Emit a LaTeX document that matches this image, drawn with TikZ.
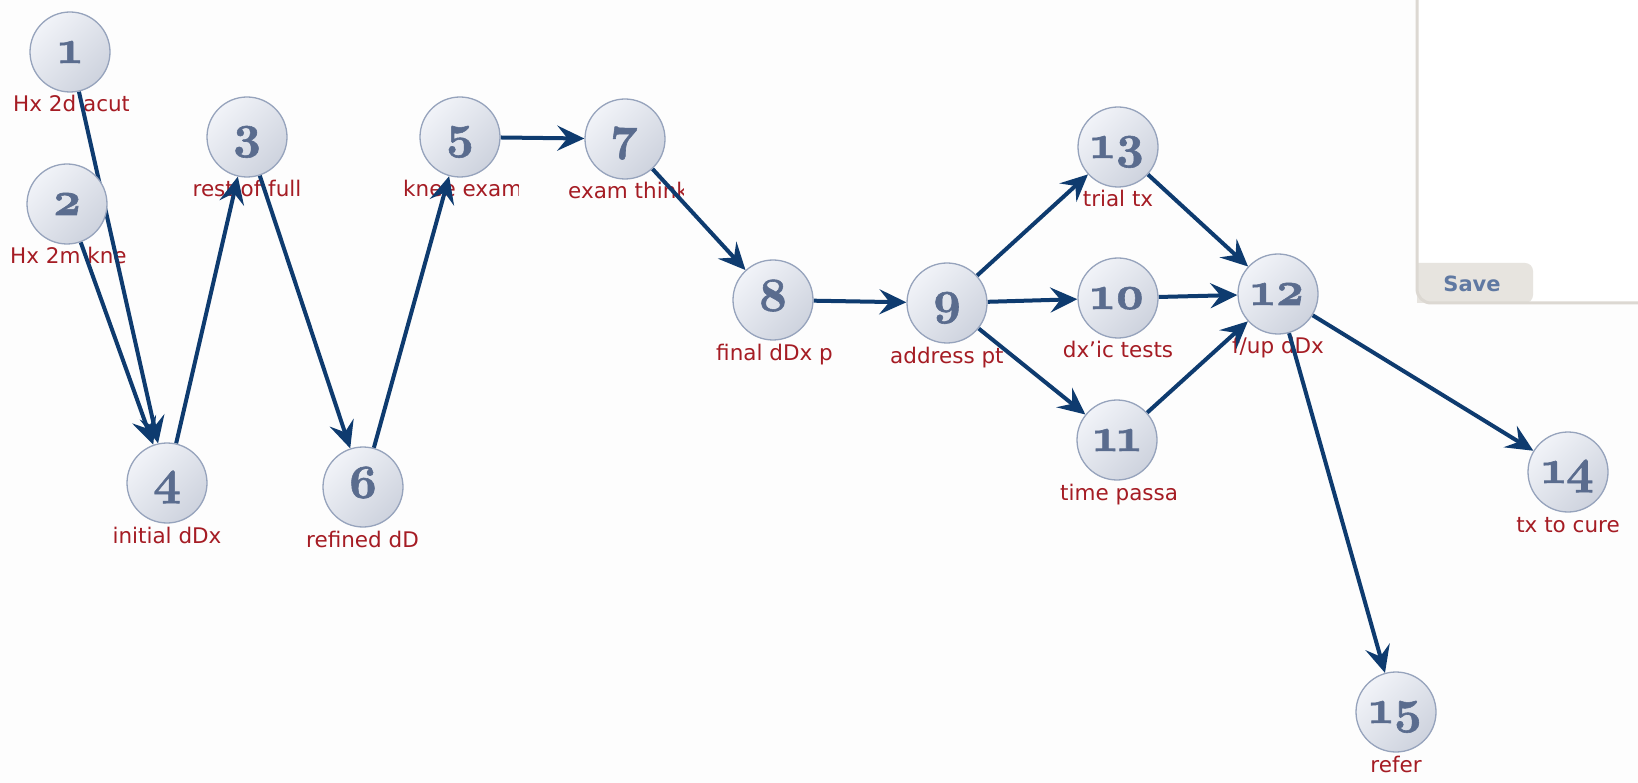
\documentclass[tikz,border=0pt]{standalone}
\usepackage{fontspec}
\usetikzlibrary{arrows.meta,calc}
\newfontfamily\labfont{DejaVu Sans}
\newfontfamily\numfont[Numbers=OldStyle,FakeBold=1.2]{lmroman10-bold.otf}
\definecolor{ndborder}{HTML}{96A3BC}
\definecolor{ndlight}{HTML}{F1F3F8}
\definecolor{nddark}{HTML}{CED3DE}
\definecolor{ndtext}{HTML}{5A6C8E}
\definecolor{labcol}{HTML}{A51C24}
\definecolor{edgecol}{HTML}{0E3B6F}
\definecolor{panelline}{HTML}{DCD8D2}
\definecolor{tabfill}{HTML}{E7E4DF}
\definecolor{savetext}{HTML}{6079A2}
\definecolor{bgcol}{HTML}{FDFDFD}
\pgfdeclarelayer{bg}
\pgfdeclarelayer{labels}
\pgfdeclarelayer{edges}
\pgfsetlayers{bg,labels,edges,main}
\newcommand{\clab}[2]{\node[lab, anchor=base] (#1l) at ($(#1)+(0,60)$) {#2};}
\newcommand{\llab}[2]{\begin{scope}\clip ($(#1)+(-57,41)$) rectangle ($(#1)+(58,76)$);
  \node[lab, anchor=base west] (#1l) at ($(#1)+(-57,60)$) {#2};\end{scope}}
\begin{document}
\begin{tikzpicture}[x=1pt,y=-1pt,
  nd/.style={circle, minimum size=80pt, inner sep=0pt, draw=ndborder, line width=1.3pt,
    top color=ndlight, bottom color=nddark, shading angle=45,
    font=\numfont\fontsize{48}{48}\selectfont, text=ndtext, text height=22pt, text depth=0pt},
  lab/.style={font=\labfont\fontsize{21.5}{22}\selectfont, text=labcol, inner sep=0pt},
  arr/.style={draw=edgecol, line width=4pt, -{Stealth[length=27pt,width=25pt,inset=10pt]}},
  panel/.style={draw=panelline, line width=3pt, rounded corners=14pt},
  savelbl/.style={font=\labfont\bfseries\fontsize{21}{22}\selectfont, text=savetext, inner sep=0pt}]
\useasboundingbox (0,0) rectangle (1638,783);
\begin{pgfonlayer}{bg}
  \fill[bgcol] (0,0) rectangle (1638,783);
  \fill[white] (1417,-10) rectangle (1650,303);
  \fill[tabfill] (1417,303) -- (1417,263) {[rounded corners=8pt] -- (1533,263) -- (1533,303)} -- cycle;
  \draw[panel] (1417,-20) -- (1417,303) -- (1660,303);
  \node[savelbl, anchor=base] (save) at (1472,292) {Save};
\end{pgfonlayer}

\node[nd] (n1) at (70,52) {1};
\node[nd] (n2) at (67,204) {2};
\node[nd] (n3) at (247,137) {3};
\node[nd] (n4) at (167,483) {4};
\node[nd] (n5) at (460,137) {5};
\node[nd] (n6) at (363,487) {6};
\node[nd] (n7) at (625,139) {7};
\node[nd] (n8) at (773,300) {8};
\node[nd] (n9) at (947,303) {9};
\node[nd] (n10) at (1118,298) {10};
\node[nd] (n11) at (1117,440) {11};
\node[nd] (n12) at (1278,294) {12};
\node[nd] (n13) at (1118,147) {13};
\node[nd] (n14) at (1568,472) {14};
\node[nd] (n15) at (1396,712) {15};

\begin{pgfonlayer}{labels}
  \llab{n1}{Hx 2d acut}
  \llab{n2}{Hx 2m kne}
  \clab{n3}{rest of full}
  \clab{n4}{initial dDx}
  \llab{n5}{knee exam}
  \llab{n6}{refined dD}
  \llab{n7}{exam think}
  \llab{n8}{final dDx p}
  \llab{n9}{address pt}
  \clab{n10}{dx’ic tests}
  \llab{n11}{time passa}
  \clab{n12}{f/up dDx}
  \clab{n13}{trial tx}
  \clab{n14}{tx to cure}
  \clab{n15}{refer}
\end{pgfonlayer}

\begin{pgfonlayer}{edges}
  \draw[arr] (n1) -- (n4);
  \draw[arr] (n2) -- (n4);
  \draw[arr] (n4) -- (n3);
  \draw[arr] (n3) -- (n6);
  \draw[arr] (n6) -- (n5);
  \draw[arr] (n5) -- (n7);
  \draw[arr] (n7) -- (n8);
  \draw[arr] (n8) -- (n9);
  \draw[arr] (n9) -- (n13);
  \draw[arr] (n9) -- (n10);
  \draw[arr] (n9) -- (n11);
  \draw[arr] (n13) -- (n12);
  \draw[arr] (n10) -- (n12);
  \draw[arr] (n11) -- (n12);
  \draw[arr] (n12) -- (n14);
  \draw[arr] (n12) -- (n15);
\end{pgfonlayer}
\end{tikzpicture}
\end{document}
